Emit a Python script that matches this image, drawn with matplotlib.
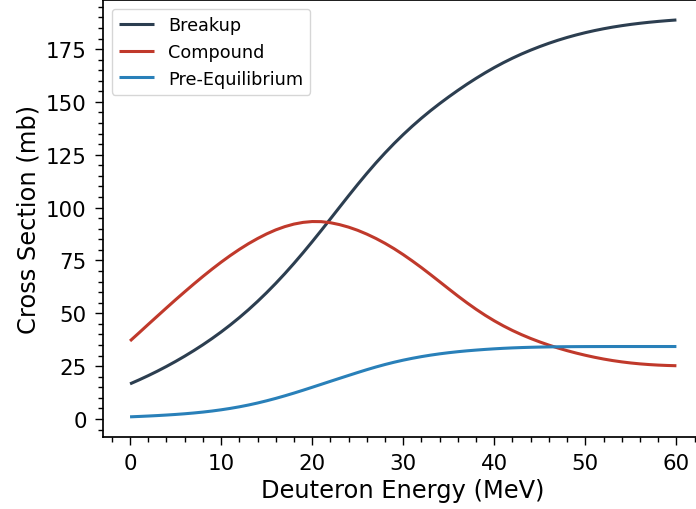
import matplotlib
matplotlib.use("Agg")
import matplotlib.pyplot as plt
from matplotlib.ticker import MultipleLocator

# Deuteron energy grid (MeV), 1 MeV steps from 0 to 60
energy = list(range(0, 61))

# Cross sections (mb) for each reaction mechanism
breakup = [16.6, 18.5, 20.5, 22.61, 24.85, 27.21, 29.7, 32.33, 35.1, 38.04,
           41.15, 44.45, 47.95, 51.66, 55.6, 59.76, 64.15, 68.76, 73.6, 78.64,
           83.85, 89.2, 94.65, 100.14, 105.6, 110.96, 116.15, 121.13, 125.85, 130.33,
           134.55, 138.54, 142.3, 145.85, 149.2, 152.39, 155.45, 158.38, 161.15, 163.78,
           166.25, 168.56, 170.7, 172.68, 174.5, 176.19, 177.75, 179.19, 180.5, 181.69,
           182.77, 183.74, 184.61, 185.39, 186.07, 186.68, 187.21, 187.68, 188.09, 188.45,
           188.77]
compound = [36.9, 40.8, 44.75, 48.65, 52.55, 56.4, 60.15, 63.84, 67.42, 70.87,
            74.17, 77.29, 80.21, 82.91, 85.35, 87.55, 89.45, 91.0, 92.2, 93.0,
            93.4, 93.35, 92.85, 91.95, 90.75, 89.25, 87.45, 85.4, 83.1, 80.55,
            77.75, 74.75, 71.6, 68.3, 64.92, 61.52, 58.17, 54.95, 51.9, 49.05,
            46.43, 44.03, 41.85, 39.87, 38.07, 36.43, 34.93, 33.56, 32.31, 31.17,
            30.13, 29.19, 28.35, 27.62, 27.0, 26.48, 26.06, 25.73, 25.48, 25.3,
            25.18]
pre_equilibrium = [1.0, 1.18, 1.38, 1.6, 1.85, 2.13, 2.45, 2.82, 3.25, 3.75,
                   4.33, 4.99, 5.74, 6.59, 7.54, 8.59, 9.73, 10.95, 12.24, 13.59,
                   14.98, 16.39, 17.8, 19.2, 20.59, 21.97, 23.31, 24.58, 25.76, 26.84,
                   27.82, 28.7, 29.49, 30.19, 30.81, 31.35, 31.82, 32.23, 32.58, 32.9,
                   33.18, 33.42, 33.62, 33.78, 33.91, 34.01, 34.09, 34.15, 34.19, 34.22,
                   34.24, 34.25, 34.26, 34.27, 34.27, 34.27, 34.27, 34.27, 34.27, 34.27,
                   34.27]

series_labels = ["Breakup", "Compound", "Pre-Equilibrium"]
series_colors = ["#2c3e50", "#c0392b", "#2980b9"]

plt.rcParams["font.family"] = ["DejaVu Sans"]

fig = plt.figure(figsize=(6.96, 5.10), dpi=100)
ax = fig.add_axes([0.1476, 0.1418, 0.8635, 0.856])

for ys, lab, col in zip([breakup, compound, pre_equilibrium],
                        series_labels, series_colors):
    ax.plot(energy, ys, color=col, lw=2.2, label=lab,
            solid_joinstyle="round", solid_capstyle="butt")

ax.set_xlim(-3, 63)
ax.xaxis.set_major_locator(MultipleLocator(10))
ax.xaxis.set_minor_locator(MultipleLocator(2))
ax.yaxis.set_major_locator(MultipleLocator(25))
ax.yaxis.set_minor_locator(MultipleLocator(5))

ax.tick_params(axis="both", which="major", direction="out", length=5.5,
               width=1.0, labelsize=15.4, pad=6)
ax.tick_params(axis="both", which="minor", direction="out", length=3.8,
               width=1.0)

for side in ["left", "bottom", "top", "right"]:
    ax.spines[side].set_linewidth(1.25)
    ax.spines[side].set_color("black")

ax.set_xlabel("Deuteron Energy (MeV)", fontsize=17.4)
ax.set_ylabel("Cross Section (mb)", fontsize=17.4)

leg = ax.legend(loc="upper left", fontsize=12.7, frameon=True,
                fancybox=True, framealpha=0.8, edgecolor="#cccccc")

fig.savefig("out.png", dpi=100)
